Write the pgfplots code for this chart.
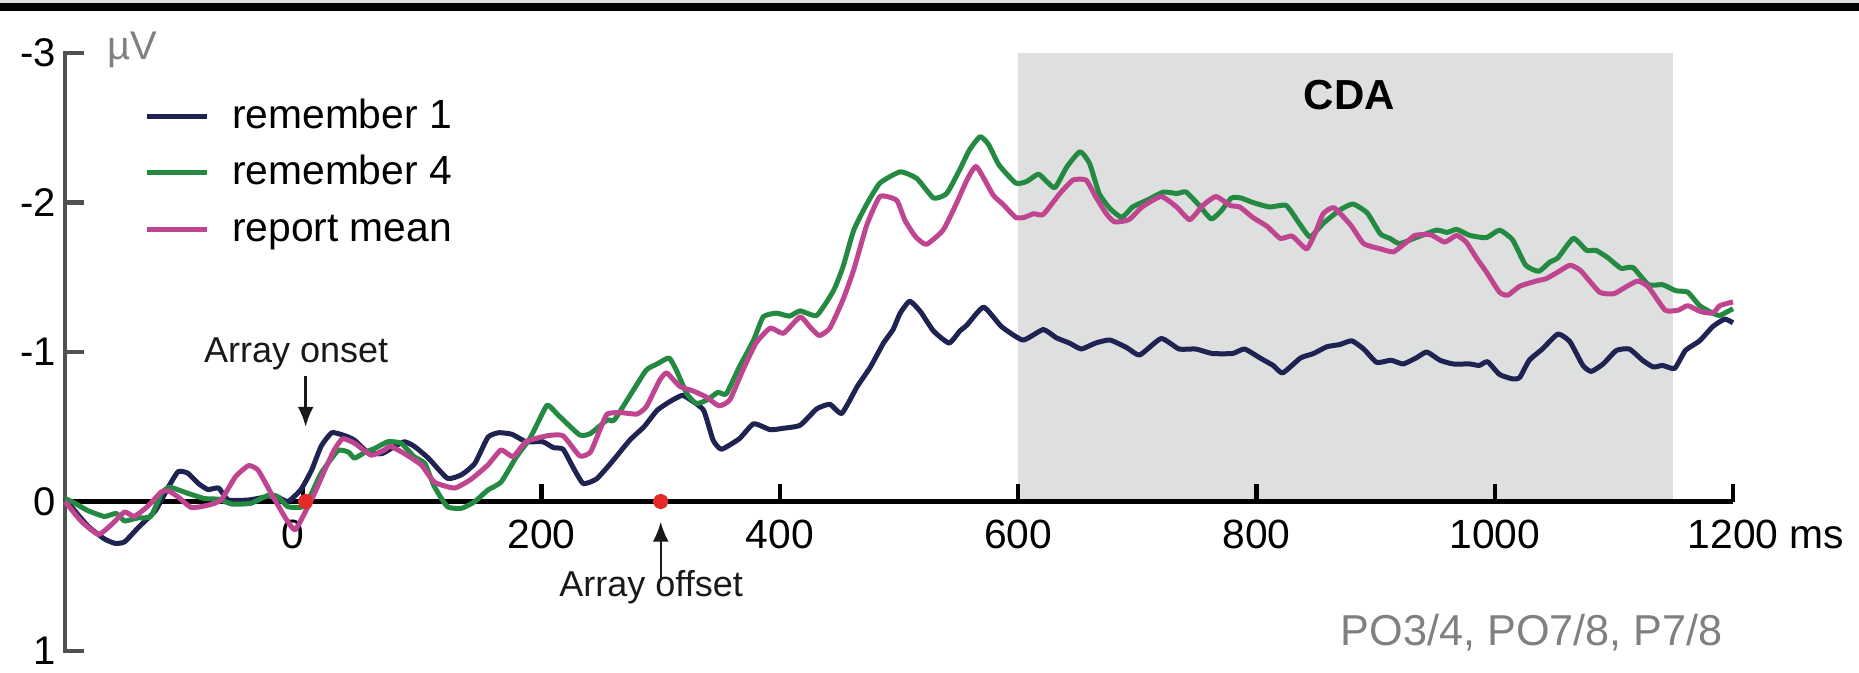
\documentclass[border=0pt]{standalone}
\usepackage{fontspec}
\setmainfont{Liberation Sans}
\usepackage{pgfplots}
\pgfplotsset{compat=1.18}
\usetikzlibrary{arrows.meta}
\definecolor{navy}{HTML}{1F2352}
\definecolor{erpgreen}{HTML}{248A42}
\definecolor{erpmag}{HTML}{BF4590}
\definecolor{cdagray}{HTML}{DEE0DF}
\definecolor{axgray}{HTML}{505050}
\definecolor{labgray}{HTML}{808080}
\definecolor{dotred}{HTML}{E52A2A}
\newcommand\fs[1]{\fontsize{#1}{#1}\selectfont}
\newcommand\lstrut{\rule[-2pt]{0pt}{9.5pt}}

\begin{document}
\begin{tikzpicture}
\begin{axis}[
  name=erp,
  scale only axis,
  width=417pt, height=149.5pt,
  xmin=-200, xmax=1200, ymin=-3, ymax=1,
  y dir=reverse,
  axis x line=middle, axis y line=left,
  axis line style={draw=none},
  major tick length=0pt,
  tick style={draw=none},
  xtick={0,200,400,600,800,1000,1200},
  xticklabels={\hspace*{-5pt}0,200,400,600,800,1000,1200\rlap{ ms}},
  ytick={-3,-2,-1,0,1},
  yticklabels={-3,-2,-1,0,1},
  xticklabel style={font=\fs{10.2}, anchor=north, inner sep=0pt, yshift=-4.5pt},
  yticklabel style={font=\fs{10}, anchor=east, inner sep=0pt, xshift=-2pt},
  clip=false,
  legend style={draw=none, fill=none, inner sep=0pt, outer sep=0pt,
    at={(axis description cs:0.0474,0.9247)}, anchor=north west,
    row sep=5.2pt, font=\fs{10.2}, nodes={inner sep=0pt},
    /tikz/every odd column/.append style={column sep=5.75pt}},
  legend cell align=left,
  legend image code/.code={\draw[#1] (0pt,0pt) -- (15pt,0pt);},
  every axis plot/.append style={line width=1.25pt, line join=round, smooth, tension=0.3},
]
% CDA window
\fill[cdagray] (axis cs:600,-3) rectangle (axis cs:1150,0);
\node[font=\bfseries\fs{10.5}] at (axis cs:878,-2.72) {CDA};

% axes drawn by hand
\draw[black, line width=1.1pt] (axis cs:-200,0) -- (axis cs:1200,0);
\draw[black, line width=1.1pt] (axis cs:0,0) -- ([yshift=4.5pt]axis cs:0,0);
\draw[black, line width=1.1pt] (axis cs:200,0) -- ([yshift=4.5pt]axis cs:200,0);
\draw[black, line width=1.1pt] (axis cs:400,0) -- ([yshift=4.5pt]axis cs:400,0);
\draw[black, line width=1.1pt] (axis cs:600,0) -- ([yshift=4.5pt]axis cs:600,0);
\draw[black, line width=1.1pt] (axis cs:800,0) -- ([yshift=4.5pt]axis cs:800,0);
\draw[black, line width=1.1pt] (axis cs:1000,0) -- ([yshift=4.5pt]axis cs:1000,0);
\draw[black, line width=1.1pt] (axis cs:1200,0) -- ([yshift=4.5pt]axis cs:1200,0);
\draw[axgray, line width=1.1pt] ([xshift=4.75pt]axis cs:-200,-3) -- (axis cs:-200,-3) -- (axis cs:-200,1) -- ([xshift=4.75pt]axis cs:-200,1);
\draw[axgray, line width=1.1pt] (axis cs:-200,-2) -- ([xshift=4.75pt]axis cs:-200,-2);
\draw[axgray, line width=1.1pt] (axis cs:-200,-1) -- ([xshift=4.75pt]axis cs:-200,-1);

\addplot[navy] coordinates {
(-200,-0.02) (-190,0.08) (-180,0.17) (-167,0.25) (-158,0.28) (-150,0.27) (-138,0.17) (-124,0.06) (-113,-0.10) (-105,-0.20) (-97,-0.19) (-88,-0.12) (-80,-0.08) (-71,-0.09) (-63,-0.01) (-46,-0.01) (-32,-0.03) (-24,-0.04) (-13,0.00) (-2,-0.08) (7,-0.21) (15,-0.37) (24,-0.46) (35,-0.44) (43,-0.41) (54,-0.33) (66,-0.32) (77,-0.37) (85,-0.40) (93,-0.37) (105,-0.29) (121,-0.155) (133,-0.18) (144,-0.255) (155,-0.43) (164,-0.46) (175,-0.45) (187,-0.40) (201,-0.40) (210,-0.36) (218,-0.35) (227,-0.22) (235,-0.12) (246,-0.15) (258,-0.255) (274,-0.41) (286,-0.50) (297,-0.61) (308,-0.67) (318,-0.71) (325,-0.68) (336,-0.61) (344,-0.41) (351,-0.35) (366,-0.42) (378,-0.52) (392,-0.48) (403,-0.49) (417,-0.51) (431,-0.62) (442,-0.65) (452,-0.59) (465,-0.77) (476,-0.90) (487,-1.06) (495,-1.15) (501,-1.26) (509,-1.34) (518,-1.27) (529,-1.14) (542,-1.06) (551,-1.14) (557,-1.18) (571,-1.30) (586,-1.17) (604,-1.08) (621,-1.15) (632,-1.095) (643,-1.06) (653,-1.02) (665,-1.06) (677,-1.08) (691,-1.03) (702,-0.98) (720,-1.09) (735,-1.02) (749,-1.02) (763,-0.99) (780,-0.99) (790,-1.02) (803,-0.96) (814,-0.91) (822,-0.86) (837,-0.96) (848,-0.99) (859,-1.035) (870,-1.05) (880,-1.075) (890,-1.02) (901,-0.93) (913,-0.945) (923,-0.92) (934,-0.96) (943,-1.00) (954,-0.945) (965,-0.92) (979,-0.92) (987,-0.91) (994,-0.935) (1004,-0.85) (1015,-0.82) (1021,-0.83) (1029,-0.945) (1040,-1.02) (1053,-1.12) (1063,-1.07) (1074,-0.91) (1081,-0.87) (1091,-0.92) (1102,-1.01) (1113,-1.02) (1124,-0.945) (1133,-0.90) (1141,-0.91) (1151,-0.89) (1160,-1.01) (1172,-1.075) (1183,-1.17) (1193,-1.22) (1200,-1.195)
};
\addlegendentry{\lstrut remember 1}
\addplot[erpgreen] coordinates {
(-200,-0.02) (-192,0.01) (-181,0.06) (-167,0.10) (-157,0.08) (-150,0.13) (-139,0.11) (-128,0.10) (-119,-0.055) (-112,-0.095) (-97,-0.055) (-83,-0.02) (-71,-0.015) (-60,0.017) (-44,0.012) (-29,-0.043) (-21,-0.03) (-13,0.035) (0,0.035) (7,-0.055) (15,-0.19) (29,-0.34) (38,-0.33) (43,-0.29) (52,-0.33) (60,-0.355) (71,-0.40) (82,-0.39) (93,-0.30) (102,-0.255) (110,-0.10) (121,0.035) (133,0.045) (144,0.00) (155,-0.077) (166,-0.13) (179,-0.30) (190,-0.42) (198,-0.545) (205,-0.645) (215,-0.57) (232,-0.445) (241,-0.455) (255,-0.545) (261,-0.545) (277,-0.745) (288,-0.88) (297,-0.92) (307,-0.96) (313,-0.88) (322,-0.72) (330,-0.655) (339,-0.68) (348,-0.73) (355,-0.72) (366,-0.90) (378,-1.08) (386,-1.235) (397,-1.26) (408,-1.24) (417,-1.275) (431,-1.245) (445,-1.41) (453,-1.57) (462,-1.815) (473,-1.99) (484,-2.13) (501,-2.205) (515,-2.16) (529,-2.03) (540,-2.06) (551,-2.22) (559,-2.35) (568,-2.44) (575,-2.39) (584,-2.25) (598,-2.13) (607,-2.14) (617,-2.19) (624,-2.14) (631,-2.10) (641,-2.24) (652,-2.34) (660,-2.26) (668,-2.06) (677,-1.96) (687,-1.90) (696,-1.97) (708,-2.015) (722,-2.07) (733,-2.06) (741,-2.07) (752,-1.98) (762,-1.89) (770,-1.94) (779,-2.03) (787,-2.03) (797,-2.00) (811,-1.97) (825,-1.98) (836,-1.86) (845,-1.77) (856,-1.86) (870,-1.95) (881,-1.99) (893,-1.93) (904,-1.79) (912,-1.76) (920,-1.725) (934,-1.765) (951,-1.815) (960,-1.80) (968,-1.82) (979,-1.78) (993,-1.765) (1004,-1.815) (1015,-1.75) (1026,-1.58) (1037,-1.54) (1046,-1.60) (1053,-1.63) (1066,-1.76) (1077,-1.68) (1085,-1.68) (1095,-1.63) (1106,-1.56) (1116,-1.565) (1129,-1.45) (1141,-1.45) (1152,-1.41) (1162,-1.40) (1172,-1.31) (1183,-1.26) (1189,-1.245) (1200,-1.29)
};
\addlegendentry{\lstrut remember 4}
\addplot[erpmag] coordinates {
(-200,0.00) (-186,0.135) (-172,0.22) (-161,0.155) (-150,0.07) (-142,0.10) (-131,0.035) (-119,-0.065) (-113,-0.07) (-105,-0.03) (-94,0.04) (-80,0.025) (-69,-0.01) (-57,-0.165) (-46,-0.24) (-38,-0.21) (-27,-0.055) (-15,0.11) (-7,0.19) (1,0.08) (10,-0.065) (18,-0.21) (26,-0.345) (33,-0.42) (43,-0.39) (57,-0.31) (68,-0.345) (73,-0.37) (85,-0.32) (99,-0.245) (110,-0.13) (127,-0.09) (141,-0.15) (155,-0.245) (166,-0.345) (176,-0.30) (187,-0.40) (205,-0.44) (218,-0.44) (232,-0.305) (241,-0.33) (249,-0.48) (255,-0.585) (266,-0.595) (280,-0.585) (288,-0.635) (299,-0.81) (305,-0.86) (316,-0.77) (327,-0.74) (338,-0.70) (349,-0.64) (358,-0.68) (369,-0.88) (380,-1.06) (392,-1.16) (403,-1.125) (417,-1.235) (425,-1.17) (433,-1.11) (442,-1.16) (453,-1.35) (462,-1.55) (473,-1.85) (484,-2.04) (498,-2.015) (505,-1.88) (514,-1.77) (523,-1.72) (537,-1.815) (548,-1.99) (557,-2.15) (565,-2.24) (579,-2.05) (587,-1.99) (598,-1.90) (605,-1.90) (613,-1.925) (621,-1.92) (635,-2.06) (646,-2.15) (657,-2.15) (665,-2.04) (674,-1.925) (681,-1.87) (693,-1.885) (704,-1.97) (720,-2.04) (733,-1.97) (744,-1.885) (755,-1.98) (766,-2.04) (778,-1.98) (786,-1.97) (797,-1.90) (809,-1.84) (820,-1.76) (830,-1.775) (842,-1.69) (849,-1.79) (856,-1.925) (865,-1.965) (879,-1.85) (890,-1.725) (904,-1.69) (915,-1.67) (926,-1.735) (933,-1.78) (946,-1.785) (958,-1.735) (968,-1.78) (976,-1.735) (985,-1.625) (993,-1.535) (1004,-1.40) (1011,-1.38) (1021,-1.44) (1035,-1.475) (1043,-1.49) (1051,-1.525) (1063,-1.58) (1072,-1.545) (1088,-1.40) (1100,-1.39) (1110,-1.435) (1120,-1.475) (1129,-1.435) (1143,-1.28) (1154,-1.28) (1162,-1.31) (1173,-1.27) (1183,-1.26) (1189,-1.31) (1200,-1.335)
};
\addlegendentry{\lstrut report mean}

% stimulus markers
\addplot[only marks, mark=*, mark size=1.3pt, dotred, forget plot] coordinates {(2,0) (300,0)};
\draw[-{Latex[length=5pt,width=4pt]}, line width=0.6pt, black!90] (axis cs:2,-0.84) -- (axis cs:2,-0.50);
\draw[-{Latex[length=5pt,width=4pt]}, line width=0.6pt, black!90] (axis cs:300,0.51) -- (axis cs:300,0.135);
\node[font=\fs{9}, black!90] at (axis cs:-6,-0.99) {Array onset};
\node[font=\fs{9}, black!90] at (axis cs:292,0.57) {Array offset};

\node[labgray, anchor=base west, inner sep=0pt, font=\fs{10}, xshift=10.5pt, yshift=-1.75pt] at (axis cs:-200,-3) {µV};
\node[labgray, anchor=base east, inner sep=0pt, font=\fs{10.8}] at (axis cs:1192,0.966) {PO3/4, PO7/8, P7/8};
\end{axis}
\pgfresetboundingbox
\path ([shift={(-16.25pt,-5.5pt)}]erp.south west) rectangle ([shift={(31.5pt,13.25pt)}]erp.north east);
\fill[black!12] ([shift={(-16.25pt,12.42pt)}]erp.north west) rectangle ([shift={(31.5pt,13.25pt)}]erp.north east);
\fill[black] ([shift={(-16.25pt,10.62pt)}]erp.north west) rectangle ([shift={(31.5pt,12.42pt)}]erp.north east);
\end{tikzpicture}
\end{document}
